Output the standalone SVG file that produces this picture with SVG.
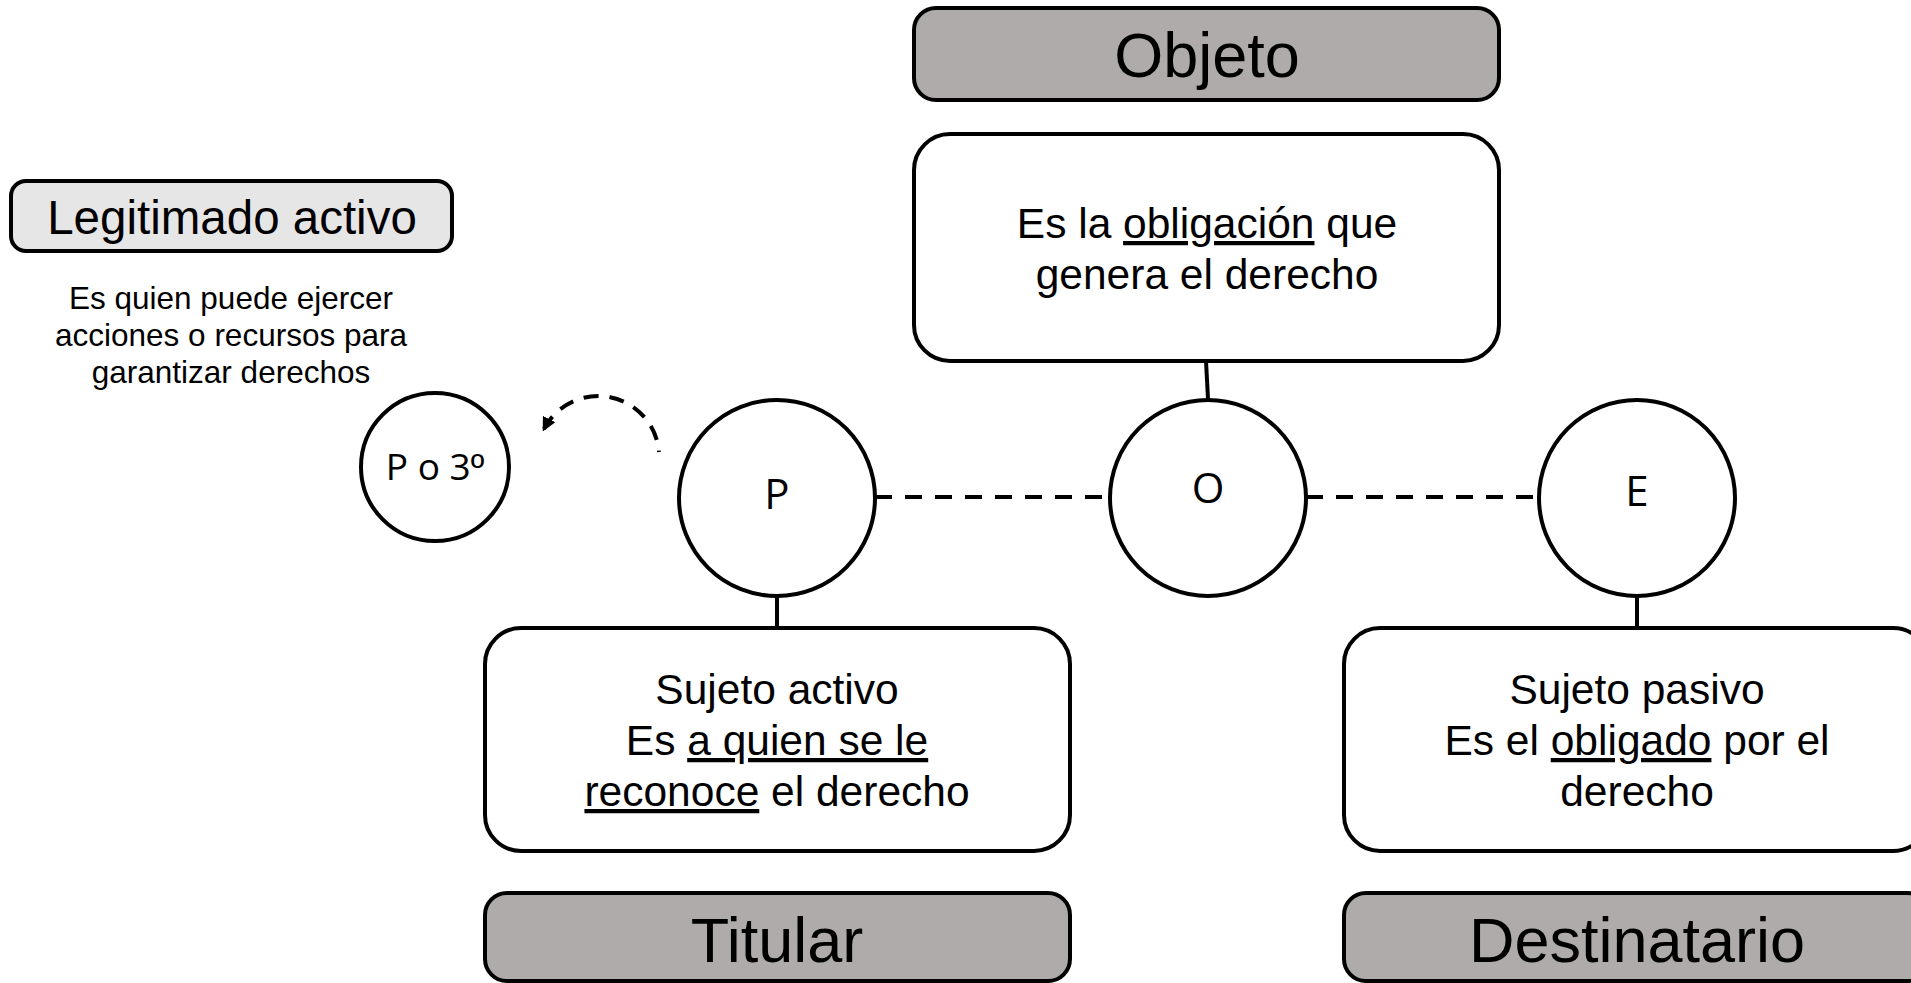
<svg xmlns="http://www.w3.org/2000/svg" width="1911" height="983" viewBox="0 0 1911 983">
<defs>
<style>
.box{fill:#ffffff;stroke:#000;stroke-width:4}
.hdr{fill:#AEABAA;stroke:#000;stroke-width:4}
.leg{fill:#E7E6E6;stroke:#000;stroke-width:4}
.circ{fill:#ffffff;stroke:#000;stroke-width:4}
.t{font-family:"Liberation Sans",Arial,sans-serif;fill:#000;text-anchor:middle}
.c{font-family:"Open Sans","Noto Sans",sans-serif;fill:#000;text-anchor:middle}
.u{text-decoration:underline}
.dash{fill:none;stroke:#000;stroke-width:4;stroke-dasharray:17 13}
.line{fill:none;stroke:#000;stroke-width:4}
</style>
<marker id="arr" viewBox="0 0 10 10" refX="8" refY="5" markerWidth="3.5" markerHeight="3.5" orient="auto-start-reverse" markerUnits="strokeWidth">
<path d="M0,0 L10,5 L0,10 z" fill="#000"/>
</marker>
</defs>
<g id="connectors">
<line class="dash" x1="875" y1="497" x2="1110" y2="497"/>
<line class="dash" x1="1306" y1="497" x2="1538" y2="497"/>
<line class="line" x1="1206" y1="361" x2="1208" y2="399"/>
<line class="line" x1="777" y1="596" x2="777" y2="629"/>
<line class="line" x1="1637" y1="596" x2="1637" y2="629"/>
<path d="M 544 429 A 61 61 0 0 1 659 452" fill="none" stroke="#000" stroke-width="4" stroke-dasharray="15 11" marker-start="url(#arr)"/>
</g>
<g id="objeto">
<rect class="hdr" x="914" y="8" width="585" height="92" rx="22"/>
<text class="t" x="1207" y="77" font-size="63">Objeto</text>
</g>
<g id="objeto-desc">
<rect class="box" x="914" y="134" width="585" height="227" rx="36"/>
<text class="t" x="1207" y="238" font-size="42.5">Es la <tspan class="u">obligación</tspan> que</text>
<text class="t" x="1207" y="289" font-size="42.5">genera el derecho</text>
</g>
<g id="legitimado">
<rect class="leg" x="11" y="181" width="441" height="70" rx="15"/>
<text class="t" x="232" y="234" font-size="47.5">Legitimado activo</text>
</g>
<g id="legitimado-desc">
<text class="t" x="231" y="309" font-size="31.5">Es quien puede ejercer</text>
<text class="t" x="231" y="346" font-size="31.5">acciones o recursos para</text>
<text class="t" x="231" y="383" font-size="31.5">garantizar derechos</text>
</g>
<g id="p-o-3">
<circle class="circ" cx="435" cy="467" r="74"/>
<text class="c" x="435" y="480" font-size="37">P o 3<tspan font-family="Liberation Sans, Arial, sans-serif">º</tspan></text>
</g>
<g id="p">
<circle class="circ" cx="777" cy="498" r="98"/>
<text class="c" x="777" y="509" font-size="42">P</text>
</g>
<g id="o">
<circle class="circ" cx="1208" cy="498" r="98"/>
<text class="c" x="1208" y="503" font-size="42">O</text>
</g>
<g id="e">
<circle class="circ" cx="1637" cy="498" r="98"/>
<text class="c" x="1637" y="506" font-size="42">E</text>
</g>
<g id="sujeto-activo">
<rect class="box" x="485" y="628" width="585" height="223" rx="36"/>
<text class="t" x="777" y="704" font-size="42.5">Sujeto activo</text>
<text class="t" x="777" y="755" font-size="42.5">Es <tspan class="u">a quien se le</tspan></text>
<text class="t" x="777" y="806" font-size="42.5"><tspan class="u">reconoce</tspan> el derecho</text>
</g>
<g id="sujeto-pasivo">
<rect class="box" x="1344" y="628" width="585" height="223" rx="36"/>
<text class="t" x="1637" y="704" font-size="42.5">Sujeto pasivo</text>
<text class="t" x="1637" y="755" font-size="42.5">Es el <tspan class="u">obligado</tspan> por el</text>
<text class="t" x="1637" y="806" font-size="42.5">derecho</text>
</g>
<g id="titular">
<rect class="hdr" x="485" y="893" width="585" height="88" rx="22"/>
<text class="t" x="777" y="962" font-size="63">Titular</text>
</g>
<g id="destinatario">
<rect class="hdr" x="1344" y="893" width="585" height="88" rx="22"/>
<text class="t" x="1637" y="962" font-size="63">Destinatario</text>
</g>
</svg>
